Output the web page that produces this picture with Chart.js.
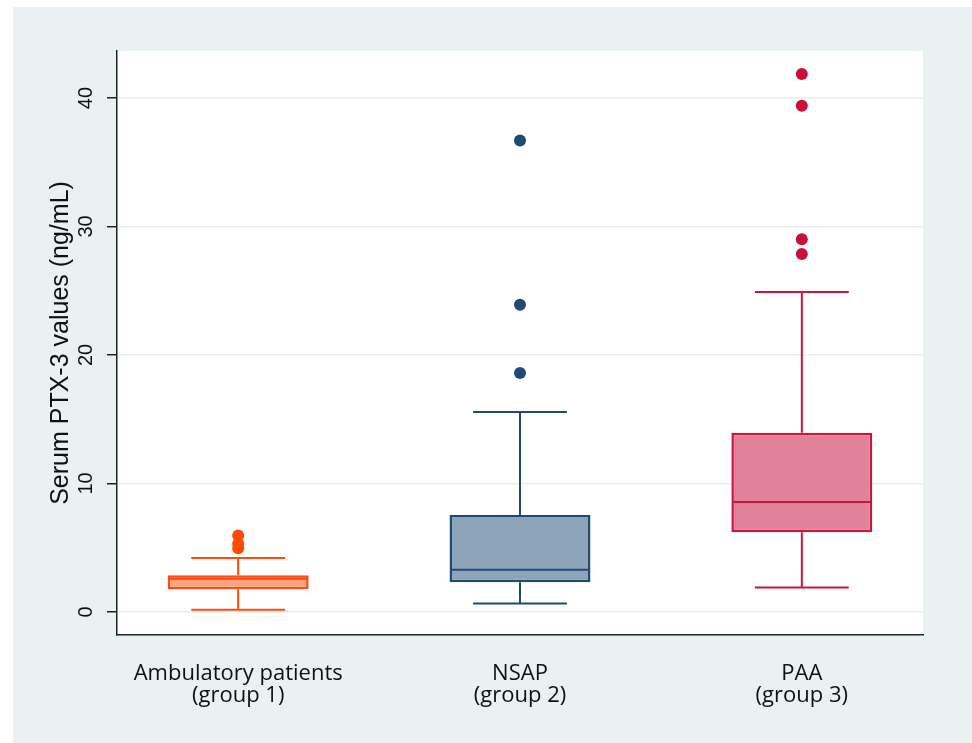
<!DOCTYPE html>
<html>
<head>
<meta charset="utf-8">
<script src="https://cdn.jsdelivr.net/npm/chart.js@4.4.1/dist/chart.umd.min.js"></script>
<style>
  html, body { margin: 0; padding: 0; background: #ffffff; }
  #wrap { width: 972px; height: 743px; }
</style>
</head>
<body>
<div id="wrap"><canvas id="boxChart" width="972" height="743"></canvas></div>
<script>
// Box plot values (ng/mL)
const groups = [['Ambulatory patients', '(group 1)'], ['NSAP', '(group 2)'], ['PAA', '(group 3)']];
const whiskerLow = [0.16, 0.65, 1.89];
const q1 = [1.77, 2.31, 6.2];
const median = [2.57, 3.27, 8.56];
const q3 = [2.85, 7.55, 13.95];
const whiskerHigh = [4.2, 15.56, 24.9];
const outliers = [[4.95, 5.3, 5.95], [18.6, 23.9, 36.7], [27.86, 29.0, 39.4, 41.87]];
const yTicks = [0, 10, 20, 30, 40];

const strokeColors = ['#ff4a10', '#1f4a75', '#c8173f'];
const fillColors = ['#ffa27f', '#8da4b9', '#e0839a'];
const dotColors = ['#ff4a00', '#1e4a75', '#c8103a'];

const boxData = groups.map((g, i) => ({ x: i + 1, y: [q1[i], q3[i]] }));
const dotData = [];
const dotCol = [];
outliers.forEach((list, i) => {
    list.forEach(v => { dotData.push({ x: i + 1, y: v }); dotCol.push(dotColors[i]); });
});

// background panel + white plot area
const backdrop = {
    id: 'backdrop',
    beforeDraw(chart) {
        const ctx = chart.ctx;
        const a = chart.chartArea;
        ctx.save();
        ctx.fillStyle = '#ffffff';
        ctx.fillRect(0, 0, chart.width, chart.height);
        ctx.fillStyle = '#eaf1f3';
        ctx.fillRect(13, 7, chart.width - 13, chart.height - 7);
        ctx.fillStyle = '#ffffff';
        ctx.fillRect(a.left, a.top, a.right - a.left, a.bottom - a.top);
        ctx.restore();
    }
};

// whiskers, caps and medians
const boxParts = {
    id: 'boxParts',
    afterDatasetsDraw(chart) {
        const ctx = chart.ctx;
        const xs = chart.scales.x;
        const ys = chart.scales.y;
        const cap = 0.333;
        const half = 0.247;
        ctx.save();
        ctx.lineWidth = 2;
        groups.forEach((g, i) => {
            const cx = xs.getPixelForValue(i + 1);
            ctx.strokeStyle = strokeColors[i];
            ctx.beginPath();
            ctx.moveTo(cx, ys.getPixelForValue(q3[i]));
            ctx.lineTo(cx, ys.getPixelForValue(whiskerHigh[i]));
            ctx.moveTo(cx, ys.getPixelForValue(q1[i]));
            ctx.lineTo(cx, ys.getPixelForValue(whiskerLow[i]));
            ctx.moveTo(xs.getPixelForValue(i + 1 - cap / 2), ys.getPixelForValue(whiskerHigh[i]));
            ctx.lineTo(xs.getPixelForValue(i + 1 + cap / 2), ys.getPixelForValue(whiskerHigh[i]));
            ctx.moveTo(xs.getPixelForValue(i + 1 - cap / 2), ys.getPixelForValue(whiskerLow[i]));
            ctx.lineTo(xs.getPixelForValue(i + 1 + cap / 2), ys.getPixelForValue(whiskerLow[i]));
            ctx.moveTo(xs.getPixelForValue(i + 1 - half), ys.getPixelForValue(median[i]));
            ctx.lineTo(xs.getPixelForValue(i + 1 + half), ys.getPixelForValue(median[i]));
            ctx.stroke();
        });
        ctx.restore();
    }
};

// vertical y tick labels and axis title (Stata style)
const yText = {
    id: 'yText',
    afterDraw(chart) {
        const ctx = chart.ctx;
        const ys = chart.scales.y;
        const a = chart.chartArea;
        ctx.save();
        ctx.fillStyle = '#111111';
        ctx.textAlign = 'center';
        ctx.textBaseline = 'middle';
        ctx.font = '20px "Liberation Sans", Arial, sans-serif';
        yTicks.forEach(v => {
            ctx.save();
            ctx.translate(86, ys.getPixelForValue(v));
            ctx.rotate(-Math.PI / 2);
            ctx.fillText(String(v), 0, 0);
            ctx.restore();
        });
        ctx.font = '25px "Liberation Sans", Arial, sans-serif';
        ctx.translate(61, (a.top + a.bottom) / 2);
        ctx.rotate(-Math.PI / 2);
        ctx.fillText('Serum PTX-3 values (ng/mL)', 0, 0);
        ctx.restore();
    }
};

new Chart(document.getElementById('boxChart').getContext('2d'), {
    type: 'bar',
    data: {
        datasets: [{
            type: 'bar',
            data: boxData,
            backgroundColor: fillColors,
            borderColor: strokeColors,
            borderWidth: 2.5,
            borderSkipped: false,
            categoryPercentage: 1,
            barPercentage: 0.5,
            order: 2
        }, {
            type: 'scatter',
            data: dotData,
            pointRadius: 6,
            pointHoverRadius: 6,
            pointBackgroundColor: dotCol,
            pointBorderColor: dotCol,
            pointBorderWidth: 0,
            order: 1
        }]
    },
    options: {
        responsive: false,
        animation: false,
        events: [],
        layout: { padding: { top: 51, right: 49, left: 0, bottom: 0 } },
        plugins: { legend: { display: false }, tooltip: { enabled: false } },
        scales: {
            x: {
                type: 'linear',
                offset: false,
                min: 0.57,
                max: 3.43,
                afterBuildTicks: s => { s.ticks = groups.map((g, i) => ({ value: i + 1 })); },
                afterFit: s => { s.height = 108; },
                grid: { display: true, drawOnChartArea: false, drawTicks: false, offset: false },
                border: { display: true, color: '#222222', width: 1.5 },
                ticks: {
                    padding: 27,
                    color: '#111111',
                    maxRotation: 0,
                    font: { family: '"Open Sans"', size: 22, lineHeight: 1.03 },
                    callback: v => groups[Math.round(v) - 1]
                }
            },
            y: {
                min: -1.8,
                max: 43.66,
                afterBuildTicks: s => { s.ticks = yTicks.map(v => ({ value: v })); },
                afterFit: s => { s.width = 117; },
                grid: { color: '#e6eff2', lineWidth: 1.5, tickColor: '#222222', tickLength: 10 },
                border: { display: true, color: '#222222', width: 1.5 },
                ticks: { display: false }
            }
        }
    },
    plugins: [backdrop, boxParts, yText]
});
</script>
</body>
</html>
